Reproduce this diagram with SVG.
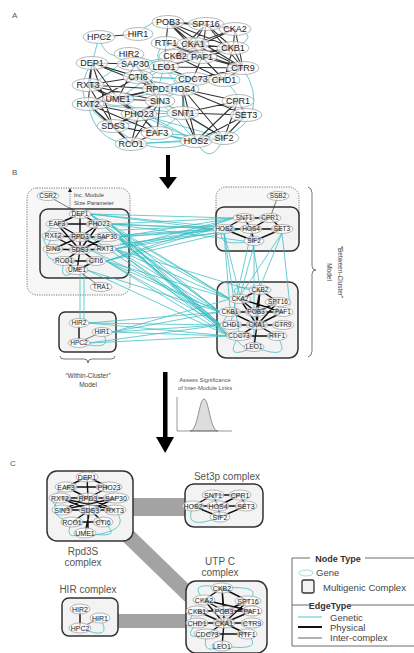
<svg xmlns="http://www.w3.org/2000/svg" width="414" height="653" viewBox="0 0 414 653">
<style>
text{font-family:"Liberation Sans",Arial,sans-serif}
.lbl{font-size:8px;fill:#555}
.n ellipse{fill:#fff;fill-opacity:.72;stroke:#9a9a9a;stroke-width:.7}
.n text{text-anchor:middle;fill:#222}
.a text{font-size:9px}
.b text{font-size:6.5px}
.c text{font-size:7px}
.phys{fill:none;stroke:#111;stroke-width:1.4;stroke-linecap:round}
.physA{fill:none;stroke:#111;stroke-width:1.1;stroke-opacity:.85}
.thin{fill:none;stroke:#222;stroke-width:.6}
.gen{fill:none;stroke:#3dbdc4;stroke-width:.9;stroke-opacity:.85}
.box{fill:#f3f3f3;stroke:#333;stroke-width:1.5}
.dot{fill:#f7f7f7;stroke:#555;stroke-width:.8;stroke-dasharray:1.2 1.2}
.band{fill:#a3a3a3}
.cap{font-size:10px;fill:#555;text-anchor:middle}
.sm{font-size:5.8px;fill:#444}
.leg{font-size:9.5px;fill:#444}
</style>
<rect width="414" height="653" fill="#fff"/>
<text class="lbl" x="12" y="18">A</text>
<text class="lbl" x="12" y="175">B</text>
<text class="lbl" x="10" y="466">C</text>

<g id="frames">
<rect class="dot" x="27" y="188" width="103" height="107" rx="10"/>
<rect class="box" x="40" y="209" width="89" height="69" rx="8"/>
<rect class="box" x="59" y="312" width="57" height="40" rx="6"/>
<rect class="dot" x="216" y="187" width="83" height="64" rx="10"/>
<rect class="box" x="216" y="207" width="83" height="44" rx="8"/>
<rect class="box" x="217" y="282" width="81" height="76" rx="9"/>
<path d="M70 208V192" fill="none" stroke="#555" stroke-width=".7" stroke-dasharray="1.2 1"/>
<path d="M68 192L70 188L72 192Z" fill="#222"/>
<path d="M308 187Q312 188 312 193V266Q312 270 316 270Q312 270 312 274V351Q312 356 308 357" fill="none" stroke="#555" stroke-width=".8"/>
<path d="M60 356Q60 359 64 359H84Q88 359 88 363Q88 359 92 359H111Q115 359 115 356" fill="none" stroke="#555" stroke-width=".8"/>
</g>
<g id="bands">
<rect class="band" x="130" y="498" width="58" height="18"/>
<path d="M124 532L190 596" stroke="#a3a3a3" stroke-width="15"/>
<rect class="band" x="115" y="614" width="73" height="14"/>
</g>
<g id="frames-c">
<rect class="box" x="47" y="471" width="86" height="70" rx="10"/>
<rect class="box" x="185" y="484" width="78" height="43" rx="9"/>
<rect class="box" x="186" y="581" width="81" height="72" rx="10"/>
<rect class="box" x="62" y="598" width="56" height="38" rx="7"/>
</g>

<g id="connectors">
<path class="gen" d="M99 37Q105 62 129 54M138 34Q152 18 168 22M235 29Q262 36 233 48M196 141Q210 168 224 138M224 138Q272 115 243 68M88 104Q95 142 131 144M92 63Q66 100 113 126M129 54Q108 78 88 85
M129 54L164 67M135 64L164 67M135 64L175 56M138 77L164 67M138 77L193 79M138 77L224 80M158 89L164 67M158 89L193 79M158 89L183 89M118 99L183 89M160 101L183 89M160 101L183 113M139 114L183 113M139 114L196 141M157 133L196 141M157 133L183 113M113 126L196 141M131 144L196 141M131 144L224 138M160 101L196 141M160 101L224 138M139 114L224 138M92 63L138 77M135 64L193 79M129 54L193 79M157 133L224 138M113 126L183 113M118 99L196 141M88 104L183 113M138 77L183 89M135 64L202 57M158 89L224 80M118 99L164 67M99 37L92 63M166 43Q150 55 164 67M193 79Q200 95 183 89M164 67Q190 100 183 113M224 80Q240 95 238 101M113 126Q150 160 196 141M139 114Q170 150 224 138"/>
<path class="physA" d="M92 63L88 85M92 63L88 104M92 63L118 99M92 63L135 64M92 63L158 89M92 63L138 77M92 63L113 126M88 85L118 99M88 85L138 77M88 85L158 89M88 85L160 101M88 85L113 126M88 85L139 114M88 104L118 99M88 104L138 77M88 104L158 89M88 104L113 126M88 104L139 114M88 104L131 144M88 104L157 133M118 99L160 101M118 99L158 89M118 99L135 64M135 64L158 89M135 64L160 101M138 77L158 89M138 77L160 101M158 89L160 101M160 101L139 114M160 101L113 126M160 101L131 144M160 101L157 133M139 114L113 126M139 114L131 144M139 114L157 133M113 126L131 144M113 126L157 133M131 144L157 133M118 99L139 114M99 37L138 34
M168 22L206 24M168 22L193 44M168 22L233 48M168 22L235 29M168 22L202 57M168 22L243 68M168 22L166 43M206 24L235 29M206 24L193 44M206 24L233 48M206 24L175 56M206 24L243 68M206 24L202 57M235 29L233 48M235 29L193 44M235 29L175 56M235 29L243 68M166 43L193 44M166 43L202 57M166 43L164 67M166 43L243 68M193 44L233 48M193 44L175 56M193 44L243 68M193 44L202 57M233 48L175 56M233 48L243 68M233 48L202 57M233 48L224 80M175 56L202 57M175 56L164 67M175 56L224 80M202 57L164 67M202 57L243 68M202 57L193 79M202 57L224 80M164 67L243 68M164 67L193 79M243 68L193 79M243 68L224 80M193 79L224 80
M183 89L183 113M183 89L238 101M183 89L246 115M183 89L196 141M183 89L224 138M183 113L238 101M183 113L246 115M183 113L196 141M183 113L224 138M238 101L246 115M238 101L224 138M238 101L196 141M246 115L196 141M246 115L224 138M196 141L224 138"/>

<path class="gen" d="M90 214L214 229M90 214L234 218M90 214L241 229M90 214L230 299M90 214L220 312M90 214L221 325M90 214L229 336
M110 224L214 229M110 224L234 218M110 224L241 229M110 224L230 299M110 224L220 312M110 224L221 325M110 224L229 336
M118 237L214 229M118 237L234 218M118 237L241 229M118 237L230 299M118 237L220 312M118 237L221 325M118 237L229 336
M115 249L214 229M115 249L234 218M115 249L241 229M115 249L230 299M115 249L220 312M115 249L221 325M115 249L229 336
M106 261L214 229M106 261L234 218M106 261L241 229M106 261L230 299M106 261L220 312M106 261L221 325M106 261L229 336
M90 237L214 229M90 250L220 312M90 237L221 325M90 250L214 229M87 270L229 336M87 270L220 312M110 224L244 241M118 237L244 347M115 249L250 290M120 230L214 226M120 244L216 233
M89 323L220 312M89 323L221 325M89 323L229 336M112 332L220 312M112 332L221 325M112 332L229 336M112 332L230 299M89 343L221 325M89 343L229 336
M224 233L240 296M224 233L230 309M251 233L260 287M254 245L240 296M282 233L240 296M282 233L260 287M224 233L239 333M251 233L231 322M282 233L290 306M254 245L254 344
M80 273L80 320M84 273L84 320
M57 224Q33 240 53 249M53 236Q36 262 64 261M64 261Q58 284 77 270M102 332Q116 352 79 343
M224 229Q212 248 254 241M239 336Q222 362 254 347M277 336Q294 362 254 347M230 312Q214 332 231 325M240 299Q222 282 260 290"/>
<path class="phys" d="M80 214L57 224M80 214L99 224M80 214L80 237M57 224L80 237M99 224L80 237M53 236L80 237M80 237L107 237M53 249L80 250M80 250L105 249M80 237L80 250M53 236L80 250M107 237L80 250M53 249L80 237M105 249L80 237M64 261L80 250M96 261L80 250M64 261L96 261M77 270L80 250M77 270L96 261M77 270L64 261M57 224L99 224M57 224L80 250M99 224L80 250
M79 327L79 339
M224 229L244 218M244 218L270 218M270 218L282 229M282 229L254 241M254 241L224 229M224 229L251 229M251 229L282 229M244 218L251 229M270 218L251 229M251 229L254 241
M260 290L240 299M260 290L256 312M260 290L278 302M240 299L256 312M278 302L256 312M230 312L256 312M256 312L283 312M256 312L257 325M231 325L257 325M257 325L283 325M240 299L257 325M278 302L257 325M230 312L257 325M283 312L257 325M257 325L239 336M257 325L277 336M239 336L277 336M254 347L257 325M260 290L257 325M240 299L283 312"/>
<path class="thin" d="M48 196L80 214M77 270L101 287M278 196L270 218M102 332L84 340"/>

<path class="gen" d="M66 487Q42 500 62 510M60 498Q44 515 72 522M72 522Q62 542 85 533M115 510Q134 532 85 536M103 522Q126 540 85 533
M193 506Q182 532 220 517
M204 600Q186 580 222 588M248 601Q266 585 222 588M197 623Q180 642 207 634M207 634Q200 656 222 646M247 634Q266 652 222 646M197 611Q184 620 197 623
M100 618Q114 642 80 628"/>
<path class="phys" d="M87 477L66 487M87 477L88 498M87 477L109 487M66 487L88 498M109 487L88 498M60 498L88 498M88 498L116 498M62 510L90 510M90 510L115 510M88 498L90 510M60 498L90 510M116 498L90 510M62 510L88 498M115 510L88 498M72 522L90 510M103 522L90 510M72 522L103 522M85 533L90 510M88 515L88 528M66 487L109 487M60 498L115 510M116 498L62 510
M193 506L213 495M213 495L240 495M240 495L246 506M246 506L220 517M220 517L193 506M193 506L218 506M218 506L246 506M213 495L218 506M240 495L218 506M218 506L220 517
M222 588L204 600M222 588L224 611M222 588L248 601M204 600L224 611M248 601L224 611M197 611L224 611M224 611L252 611M224 611L224 623M197 623L224 623M224 623L252 623M204 600L224 623M248 601L224 623M197 611L224 623M252 611L224 623M224 623L207 634M224 623L247 634M207 634L247 634M222 646L224 623M222 588L224 623M204 600L252 611
M80 612L80 625"/>
<path class="thin" d="M100 618L84 626"/>
</g>

<g class="n a">
<g id="a-POB3"><ellipse cx="168" cy="22" rx="16" ry="6.5"/><text x="168" y="25">POB3</text></g>
<g id="a-SPT16"><ellipse cx="206" cy="24" rx="18" ry="6.5"/><text x="206" y="27">SPT16</text></g>
<g id="a-CKA2"><ellipse cx="235" cy="29" rx="16" ry="6.5"/><text x="235" y="32">CKA2</text></g>
<g id="a-HPC2"><ellipse cx="99" cy="37" rx="16" ry="6.5"/><text x="99" y="40">HPC2</text></g>
<g id="a-HIR1"><ellipse cx="138" cy="34" rx="15" ry="6.5"/><text x="138" y="37">HIR1</text></g>
<g id="a-RTF1"><ellipse cx="166" cy="43" rx="15" ry="6.5"/><text x="166" y="46">RTF1</text></g>
<g id="a-CKA1"><ellipse cx="193" cy="44" rx="16" ry="6.5"/><text x="193" y="47">CKA1</text></g>
<g id="a-CKB1"><ellipse cx="233" cy="48" rx="16" ry="6.5"/><text x="233" y="51">CKB1</text></g>
<g id="a-HIR2"><ellipse cx="129" cy="54" rx="15" ry="6.5"/><text x="129" y="57">HIR2</text></g>
<g id="a-CKB2"><ellipse cx="175" cy="56" rx="16" ry="6.5"/><text x="175" y="59">CKB2</text></g>
<g id="a-PAF1"><ellipse cx="202" cy="57" rx="15" ry="6.5"/><text x="202" y="60">PAF1</text></g>
<g id="a-DEP1"><ellipse cx="92" cy="63" rx="16" ry="6.5"/><text x="92" y="66">DEP1</text></g>
<g id="a-SAP30"><ellipse cx="135" cy="64" rx="18" ry="6.5"/><text x="135" y="67">SAP30</text></g>
<g id="a-LEO1"><ellipse cx="164" cy="67" rx="15" ry="6.5"/><text x="164" y="70">LEO1</text></g>
<g id="a-CTR9"><ellipse cx="243" cy="68" rx="16" ry="6.5"/><text x="243" y="71">CTR9</text></g>
<g id="a-CTI6"><ellipse cx="138" cy="77" rx="15" ry="6.5"/><text x="138" y="80">CTI6</text></g>
<g id="a-CDC73"><ellipse cx="193" cy="79" rx="18" ry="6.5"/><text x="193" y="82">CDC73</text></g>
<g id="a-CHD1"><ellipse cx="224" cy="80" rx="16" ry="6.5"/><text x="224" y="83">CHD1</text></g>
<g id="a-RXT3"><ellipse cx="88" cy="85" rx="16" ry="6.5"/><text x="88" y="88">RXT3</text></g>
<g id="a-RPD3"><ellipse cx="158" cy="89" rx="16" ry="6.5"/><text x="158" y="92">RPD3</text></g>
<g id="a-HOS4"><ellipse cx="183" cy="89" rx="16" ry="6.5"/><text x="183" y="92">HOS4</text></g>
<g id="a-RXT2"><ellipse cx="88" cy="104" rx="16" ry="6.5"/><text x="88" y="107">RXT2</text></g>
<g id="a-UME1"><ellipse cx="118" cy="99" rx="16" ry="6.5"/><text x="118" y="102">UME1</text></g>
<g id="a-SIN3"><ellipse cx="160" cy="101" rx="15" ry="6.5"/><text x="160" y="104">SIN3</text></g>
<g id="a-CPR1"><ellipse cx="238" cy="101" rx="16" ry="6.5"/><text x="238" y="104">CPR1</text></g>
<g id="a-PHO23"><ellipse cx="139" cy="114" rx="18" ry="6.5"/><text x="139" y="117">PHO23</text></g>
<g id="a-SNT1"><ellipse cx="183" cy="113" rx="16" ry="6.5"/><text x="183" y="116">SNT1</text></g>
<g id="a-SET3"><ellipse cx="246" cy="115" rx="16" ry="6.5"/><text x="246" y="118">SET3</text></g>
<g id="a-SDS3"><ellipse cx="113" cy="126" rx="16" ry="6.5"/><text x="113" y="129">SDS3</text></g>
<g id="a-EAF3"><ellipse cx="157" cy="133" rx="16" ry="6.5"/><text x="157" y="136">EAF3</text></g>
<g id="a-HOS2"><ellipse cx="196" cy="141" rx="16" ry="6.5"/><text x="196" y="144">HOS2</text></g>
<g id="a-SIF2"><ellipse cx="224" cy="138" rx="15" ry="6.5"/><text x="224" y="141">SIF2</text></g>
<g id="a-RCO1"><ellipse cx="131" cy="144" rx="16" ry="6.5"/><text x="131" y="147">RCO1</text></g>
</g>

<g class="n b">
<g id="b-CSR2"><ellipse cx="48" cy="196" rx="11" ry="4.5"/><text x="48" y="198.3">CSR2</text></g>
<g id="b-DEP1"><ellipse cx="80" cy="214" rx="11" ry="4.5"/><text x="80" y="216.3">DEP1</text></g>
<g id="b-EAF3"><ellipse cx="57" cy="224" rx="11" ry="4.5"/><text x="57" y="226.3">EAF3</text></g>
<g id="b-PHO23"><ellipse cx="99" cy="224" rx="13" ry="4.5"/><text x="99" y="226.3">PHO23</text></g>
<g id="b-RXT2"><ellipse cx="53" cy="236" rx="11" ry="4.5"/><text x="53" y="238.3">RXT2</text></g>
<g id="b-RPD3"><ellipse cx="80" cy="237" rx="11" ry="4.5"/><text x="80" y="239.3">RPD3</text></g>
<g id="b-SAP30"><ellipse cx="107" cy="237" rx="13" ry="4.5"/><text x="107" y="239.3">SAP30</text></g>
<g id="b-SIN3"><ellipse cx="53" cy="249" rx="10" ry="4.5"/><text x="53" y="251.3">SIN3</text></g>
<g id="b-SDS3"><ellipse cx="80" cy="250" rx="11" ry="4.5"/><text x="80" y="252.3">SDS3</text></g>
<g id="b-RXT3"><ellipse cx="105" cy="249" rx="11" ry="4.5"/><text x="105" y="251.3">RXT3</text></g>
<g id="b-RCO1"><ellipse cx="64" cy="261" rx="11" ry="4.5"/><text x="64" y="263.3">RCO1</text></g>
<g id="b-CTI6"><ellipse cx="96" cy="261" rx="10" ry="4.5"/><text x="96" y="263.3">CTI6</text></g>
<g id="b-UME1"><ellipse cx="77" cy="270" rx="11" ry="4.5"/><text x="77" y="272.3">UME1</text></g>
<g id="b-TRA1"><ellipse cx="101" cy="287" rx="11" ry="4.5"/><text x="101" y="289.3">TRA1</text></g>
<g id="b-HIR2"><ellipse cx="79" cy="323" rx="10" ry="4.5"/><text x="79" y="325.3">HIR2</text></g>
<g id="b-HIR1"><ellipse cx="102" cy="332" rx="10" ry="4.5"/><text x="102" y="334.3">HIR1</text></g>
<g id="b-HPC2"><ellipse cx="79" cy="343" rx="11" ry="4.5"/><text x="79" y="345.3">HPC2</text></g>
<g id="b-SSB2"><ellipse cx="278" cy="196" rx="11" ry="4.5"/><text x="278" y="198.3">SSB2</text></g>
<g id="b-SNT1"><ellipse cx="244" cy="218" rx="11" ry="4.5"/><text x="244" y="220.3">SNT1</text></g>
<g id="b-CPR1"><ellipse cx="270" cy="218" rx="11" ry="4.5"/><text x="270" y="220.3">CPR1</text></g>
<g id="b-HOS2"><ellipse cx="224" cy="229" rx="11" ry="4.5"/><text x="224" y="231.3">HOS2</text></g>
<g id="b-HOS4"><ellipse cx="251" cy="229" rx="11" ry="4.5"/><text x="251" y="231.3">HOS4</text></g>
<g id="b-SET3"><ellipse cx="282" cy="229" rx="11" ry="4.5"/><text x="282" y="231.3">SET3</text></g>
<g id="b-SIF2"><ellipse cx="254" cy="241" rx="10" ry="4.5"/><text x="254" y="243.3">SIF2</text></g>
<g id="b-CKB2"><ellipse cx="260" cy="290" rx="11" ry="4.5"/><text x="260" y="292.3">CKB2</text></g>
<g id="b-CKA2"><ellipse cx="240" cy="299" rx="11" ry="4.5"/><text x="240" y="301.3">CKA2</text></g>
<g id="b-SPT16"><ellipse cx="278" cy="302" rx="13" ry="4.5"/><text x="278" y="304.3">SPT16</text></g>
<g id="b-CKB1"><ellipse cx="230" cy="312" rx="11" ry="4.5"/><text x="230" y="314.3">CKB1</text></g>
<g id="b-POB3"><ellipse cx="256" cy="312" rx="11" ry="4.5"/><text x="256" y="314.3">POB3</text></g>
<g id="b-PAF1"><ellipse cx="283" cy="312" rx="10" ry="4.5"/><text x="283" y="314.3">PAF1</text></g>
<g id="b-CHD1"><ellipse cx="231" cy="325" rx="11" ry="4.5"/><text x="231" y="327.3">CHD1</text></g>
<g id="b-CKA1"><ellipse cx="257" cy="325" rx="11" ry="4.5"/><text x="257" y="327.3">CKA1</text></g>
<g id="b-CTR9"><ellipse cx="283" cy="325" rx="11" ry="4.5"/><text x="283" y="327.3">CTR9</text></g>
<g id="b-CDC73"><ellipse cx="239" cy="336" rx="13" ry="4.5"/><text x="239" y="338.3">CDC73</text></g>
<g id="b-RTF1"><ellipse cx="277" cy="336" rx="10" ry="4.5"/><text x="277" y="338.3">RTF1</text></g>
<g id="b-LEO1"><ellipse cx="254" cy="347" rx="10" ry="4.5"/><text x="254" y="349.3">LEO1</text></g>
</g>

<g class="n c">
<g id="c-DEP1"><ellipse cx="87" cy="477" rx="11" ry="5"/><text x="87" y="479.5">DEP1</text></g>
<g id="c-EAF3"><ellipse cx="66" cy="487" rx="11" ry="5"/><text x="66" y="489.5">EAF3</text></g>
<g id="c-PHO23"><ellipse cx="109" cy="487" rx="13" ry="5"/><text x="109" y="489.5">PHO23</text></g>
<g id="c-RXT2"><ellipse cx="60" cy="498" rx="11" ry="5"/><text x="60" y="500.5">RXT2</text></g>
<g id="c-RPD3"><ellipse cx="88" cy="498" rx="11" ry="5"/><text x="88" y="500.5">RPD3</text></g>
<g id="c-SAP30"><ellipse cx="116" cy="498" rx="13" ry="5"/><text x="116" y="500.5">SAP30</text></g>
<g id="c-SIN3"><ellipse cx="62" cy="510" rx="10" ry="5"/><text x="62" y="512.5">SIN3</text></g>
<g id="c-SDS3"><ellipse cx="90" cy="510" rx="11" ry="5"/><text x="90" y="512.5">SDS3</text></g>
<g id="c-RXT3"><ellipse cx="115" cy="510" rx="11" ry="5"/><text x="115" y="512.5">RXT3</text></g>
<g id="c-RCO1"><ellipse cx="72" cy="522" rx="11" ry="5"/><text x="72" y="524.5">RCO1</text></g>
<g id="c-CTI6"><ellipse cx="103" cy="522" rx="10" ry="5"/><text x="103" y="524.5">CTI6</text></g>
<g id="c-UME1"><ellipse cx="85" cy="533" rx="11" ry="5"/><text x="85" y="535.5">UME1</text></g>
<g id="c-SNT1"><ellipse cx="213" cy="495" rx="11" ry="5"/><text x="213" y="497.5">SNT1</text></g>
<g id="c-CPR1"><ellipse cx="240" cy="495" rx="11" ry="5"/><text x="240" y="497.5">CPR1</text></g>
<g id="c-HOS2"><ellipse cx="193" cy="506" rx="11" ry="5"/><text x="193" y="508.5">HOS2</text></g>
<g id="c-HOS4"><ellipse cx="218" cy="506" rx="11" ry="5"/><text x="218" y="508.5">HOS4</text></g>
<g id="c-SET3"><ellipse cx="246" cy="506" rx="11" ry="5"/><text x="246" y="508.5">SET3</text></g>
<g id="c-SIF2"><ellipse cx="220" cy="517" rx="10" ry="5"/><text x="220" y="519.5">SIF2</text></g>
<g id="c-CKB2"><ellipse cx="222" cy="588" rx="11" ry="5"/><text x="222" y="590.5">CKB2</text></g>
<g id="c-CKA2"><ellipse cx="204" cy="600" rx="11" ry="5"/><text x="204" y="602.5">CKA2</text></g>
<g id="c-SPT16"><ellipse cx="248" cy="601" rx="13" ry="5"/><text x="248" y="603.5">SPT16</text></g>
<g id="c-CKB1"><ellipse cx="197" cy="611" rx="11" ry="5"/><text x="197" y="613.5">CKB1</text></g>
<g id="c-POB3"><ellipse cx="224" cy="611" rx="11" ry="5"/><text x="224" y="613.5">POB3</text></g>
<g id="c-PAF1"><ellipse cx="252" cy="611" rx="10" ry="5"/><text x="252" y="613.5">PAF1</text></g>
<g id="c-CHD1"><ellipse cx="197" cy="623" rx="11" ry="5"/><text x="197" y="625.5">CHD1</text></g>
<g id="c-CKA1"><ellipse cx="224" cy="623" rx="11" ry="5"/><text x="224" y="625.5">CKA1</text></g>
<g id="c-CTR9"><ellipse cx="252" cy="623" rx="11" ry="5"/><text x="252" y="625.5">CTR9</text></g>
<g id="c-CDC73"><ellipse cx="207" cy="634" rx="13" ry="5"/><text x="207" y="636.5">CDC73</text></g>
<g id="c-RTF1"><ellipse cx="247" cy="634" rx="10" ry="5"/><text x="247" y="636.5">RTF1</text></g>
<g id="c-LEO1"><ellipse cx="222" cy="646" rx="10" ry="5"/><text x="222" y="648.5">LEO1</text></g>
<g id="c-HIR2"><ellipse cx="80" cy="609" rx="10" ry="5"/><text x="80" y="611.5">HIR2</text></g>
<g id="c-HIR1"><ellipse cx="100" cy="618" rx="10" ry="5"/><text x="100" y="620.5">HIR1</text></g>
<g id="c-HPC2"><ellipse cx="80" cy="628" rx="11" ry="5"/><text x="80" y="630.5">HPC2</text></g>
</g>

<text class="sm" x="74" y="197">Inc. Module</text>
<text class="sm" x="74" y="205">Size Parameter</text>
<text x="88" y="378" font-size="6.5" fill="#444" text-anchor="middle">“Within-Cluster”</text>
<text x="88" y="387" font-size="6.5" fill="#444" text-anchor="middle">Model</text>
<g transform="translate(338,272) rotate(90)" font-size="6.5" fill="#444" text-anchor="middle">
<text x="0" y="0">“Between-Cluster”</text>
<text x="0" y="11">Model</text>
</g>

<g id="arrows" fill="#000">
<rect x="166" y="155" width="4" height="24"/>
<path d="M159 177L177 177L168 189Z"/>
<rect x="163" y="372" width="4.5" height="68"/>
<path d="M156 437L174 437L165.2 453Z"/>
</g>
<g id="sig">
<text x="205" y="382" font-size="5.8" fill="#555" text-anchor="middle">Assess Significance</text>
<text x="205" y="390" font-size="5.8" fill="#555" text-anchor="middle">of Inter-Module Links</text>
<path d="M190 431C198 431 199 399 204 399C209 399 210 431 218 431Z" fill="#ddd" stroke="#555" stroke-width=".6"/>
<path d="M177 397V431H232" fill="none" stroke="#555" stroke-width=".6"/>
</g>

<text class="cap" x="227" y="480">Set3p complex</text>
<text class="cap" x="83" y="555">Rpd3S</text>
<text class="cap" x="83" y="566">complex</text>
<text class="cap" x="220" y="565">UTP C</text>
<text class="cap" x="220" y="576">complex</text>
<text class="cap" x="88" y="593">HIR complex</text>

<g id="legend">
<path d="M310 558H292V646H414M365 558H414M292 605H310M350 605H414" fill="none" stroke="#444" stroke-width=".8"/>
<text x="338" y="562" font-size="9" font-weight="bold" fill="#333" text-anchor="middle">Node Type</text>
<ellipse cx="306" cy="573" rx="7" ry="3" fill="#fff" stroke="#7cc" stroke-width=".7"/>
<text class="leg" x="316" y="576">Gene</text>
<rect x="302" y="580" width="12" height="13" rx="2" fill="#f3f3f3" stroke="#333" stroke-width="1.3"/>
<text class="leg" x="323" y="591">Multigenic Complex</text>
<text x="330" y="609" font-size="9" font-weight="bold" fill="#333" text-anchor="middle">EdgeType</text>
<path d="M298 617H322" stroke="#3dbdc4" stroke-width=".9"/>
<path d="M298 627H322" stroke="#111" stroke-width="2"/>
<path d="M298 638H322" stroke="#666" stroke-width="1"/>
<text class="leg" x="330" y="621">Genetic</text>
<text class="leg" x="330" y="631">Physical</text>
<text class="leg" x="330" y="641">Inter-complex</text>
</g>
</svg>
